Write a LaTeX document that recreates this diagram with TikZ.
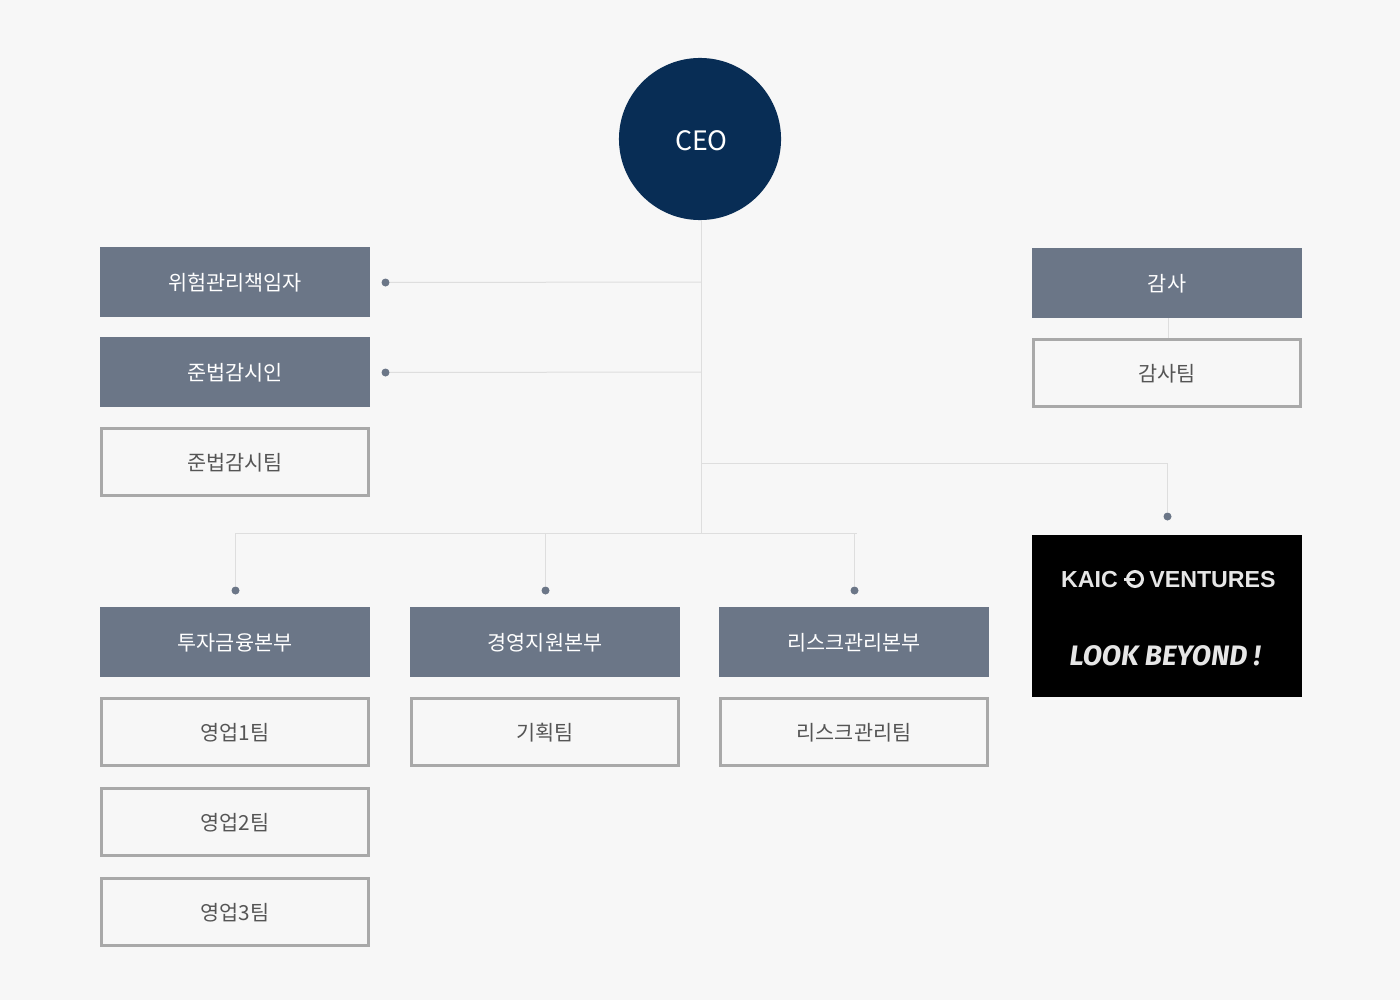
\documentclass[tikz,border=0pt]{standalone}
\usepackage{fontspec}
\setmainfont{Noto Sans CJK KR}
\newfontfamily\logofont{Liberation Sans}
\newfontfamily\brushfont{Fira Sans}
\definecolor{pagegray}{HTML}{F7F7F7}
\definecolor{slatebox}{HTML}{6B7687}
\definecolor{navyceo}{HTML}{082D55}
\definecolor{teamline}{HTML}{A9A9A9}
\definecolor{teamtext}{HTML}{555555}
\definecolor{linkline}{HTML}{DEDEDE}
\definecolor{logotext}{HTML}{E6E6E6}
\tikzset{
	headbox/.style={fill=slatebox, text=white, minimum width=2.7cm, minimum height=0.7cm, inner sep=0pt, text height=0.175cm, text depth=0cm, font=\fontsize{5.9pt}{6pt}\selectfont},
	teambox/.style={draw=teamline, line width=0.03cm, fill=pagegray, text=teamtext, minimum width=2.67cm, minimum height=0.67cm, inner sep=0pt, text height=0.175cm, text depth=0cm, font=\fontsize{5.9pt}{6pt}\selectfont},
	dotmark/.style={circle, fill=slatebox, minimum size=0.08cm, inner sep=0pt},
	linkpath/.style={draw=linkline, line width=0.01cm}
}
\begin{document}
\begin{tikzpicture}[x=0.01cm, y=-0.01cm]

	%page, fixes the margins
	\fill [pagegray] (0,0) rectangle (1400,1000);

	\def\headrow{642}
	\def\dotrow{590.5}
	\def\busrow{533}

	%links, drawn first so that the boxes sit on top
	\coordinate (jRisk) at (701,282);
	\coordinate (jComp) at (701,372);
	\coordinate (jVenture) at (701,463);
	\coordinate (jBus) at (701,\busrow);
	\coordinate (jCeo) at (701,220);
	\coordinate (jVentureEnd) at (1167.5,463);
	\coordinate (busLeft) at (235.5,\busrow);
	\coordinate (busRight) at (857,\busrow);
	\coordinate (auditTop) at (1168,318);
	\coordinate (auditEnd) at (1168,338);

	%ceo
	\node [circle, fill=navyceo, text=white, minimum size=1.62cm, inner sep=0pt, text height=0.22cm, text depth=0cm, font=\fontsize{7.6pt}{8pt}\selectfont] (ceo) at (700,139) {\hspace{0.03cm}CEO};

	%staff on the left
	\node [headbox] (risk) at (235,282) {위험관리책임자};
	\node [headbox] (comp) at (235,372) {준법감시인};
	\node [teambox] (compTeam) at (235,462) {준법감시팀};
	\node [dotmark] (dRisk) at (385.5,282.5) {};
	\node [dotmark] (dComp) at (385.5,372.5) {};

	%audit on the right
	\node [headbox] (audit) at (1167,283) {감사};
	\node [teambox] (auditTeam) at (1167,373) {감사팀};

	%head offices, name/centre/label
	\foreach \office/\position/\officename in {invest/235/투자금융본부, support/545/경영지원본부, riskHq/854/리스크관리본부}
   {
		\node [headbox] (\office) at (\position,\headrow) {\officename};
		\node [dotmark] (d\office) at (\position+0.5,\dotrow) {};
		\coordinate (j\office) at (\position+0.5,\busrow);
		\draw [linkpath] (j\office) -- (d\office);
   }

	%teams under the head offices
	\foreach \team/\position/\row/\teamname in {sales1/235/732/영업1팀, sales2/235/822/영업2팀, sales3/235/912/영업3팀, plan/545/732/기획팀, riskTeam/854/732/리스크관리팀}
   {
		\node [teambox] (\team) at (\position,\row) {\teamname};
   }

	%ventures logo
	\node [fill=black, minimum width=2.7cm, minimum height=1.62cm, inner sep=0pt] (venture) at (1167,616) {};
	\node [dotmark] (dVenture) at (1167.5,516.5) {};
	\node [text=logotext, inner sep=0pt, font=\logofont\bfseries\fontsize{6.6pt}{7pt}\selectfont] (kaic) at (1089.5,580) {KAIC};
	\node [text=logotext, inner sep=0pt, font=\logofont\bfseries\fontsize{6.6pt}{7pt}\selectfont] (ventures) at (1212.5,580) {VENTURES};
	\node [circle, draw=logotext, line width=0.03cm, minimum size=0.15cm, inner sep=0pt] (ring) at (1135,579) {};
	\coordinate (ringStub) at (1124,579);
	\draw [logotext, line width=0.03cm] (ringStub) -- (ring.center);
	\node [text=logotext, inner sep=0pt, font=\brushfont\bfseries\itshape\fontsize{8pt}{9pt}\selectfont] (look) at (1165,656) {LOOK BEYOND !};

	%connectors
	\draw [linkpath] (jCeo) -- (jBus);
	\draw [linkpath] (jRisk) -- (dRisk);
	\draw [linkpath] (jComp) -- (dComp);
	\draw [linkpath] (jVenture) -- (jVentureEnd) -- (dVenture);
	\draw [linkpath] (busLeft) -- (busRight);
	\draw [linkpath] (auditTop) -- (auditEnd);

\end{tikzpicture}
\end{document}
